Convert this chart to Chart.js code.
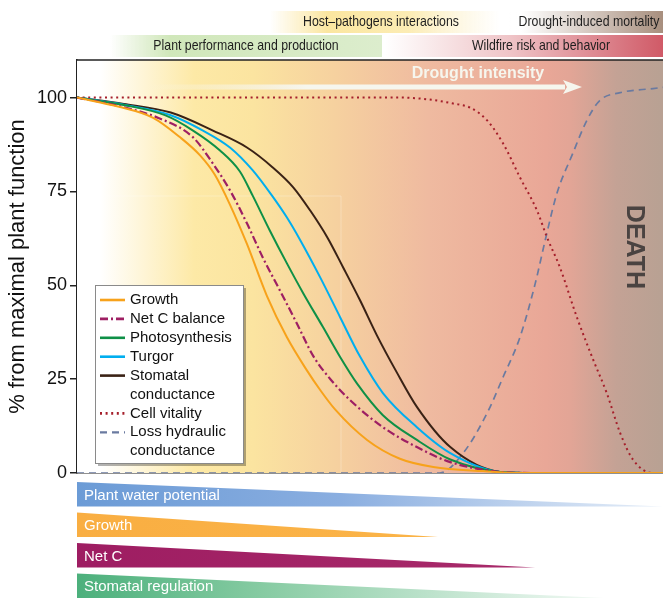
<!DOCTYPE html>
<html>
<head>
<meta charset="utf-8">
<script src="https://cdn.jsdelivr.net/npm/chart.js@4.4.1/dist/chart.umd.min.js"></script>
<style>
  html, body { margin: 0; padding: 0; background: #fff; }
  #wrap { width: 663px; height: 598px; position: relative; }
</style>
</head>
<body>
<div id="wrap"><canvas id="droughtChart"></canvas></div>
<script>
// values: [drought intensity (0-100), % of max function]
const growth = [[0,100],[7,97.6],[13,94.6],[17.6,89.4],[21,84.6],[23.5,79.5],[26.1,71.5],[29,61],[32.4,47.2],[35.8,36.2],[39.2,27.4],[41.5,22.1],[44,17],[49.5,8.8],[55.1,3.8],[60.8,1.6],[69.3,0.5],[76,0],[100,0]];
const netC = [[0,100],[7,97.8],[14,94.5],[19.8,89.4],[23.2,82.4],[26.1,75.3],[29,66.5],[31.7,57.4],[34.6,48.7],[37.5,39.9],[40.3,31.2],[43.5,24.5],[46.6,19.4],[52.2,12.2],[58,6.9],[63.7,2.9],[72.2,0.3],[78,0],[100,0]];
const photosynthesis = [[0,100],[8,98],[15,95.3],[19.8,91.2],[24.4,85.9],[27.8,80.3],[30,73.8],[32.9,64.6],[35.8,55.9],[38.6,47.9],[42,38.8],[44.9,30.9],[47.8,23.8],[52.2,15.4],[58,8.8],[63.7,3.6],[72.2,0.3],[78,0],[100,0]];
const turgor = [[0,100],[8,98.1],[16,95.3],[21.5,91.2],[26.1,86.7],[30,80.6],[33.4,73.6],[35.8,68.1],[38.1,62],[41.5,52.1],[44.9,41.5],[48.3,31],[52.2,21.3],[58,12.2],[63.7,5.3],[72.2,0.3],[78,0],[100,0]];
const stomatal = [[0,100],[8,98.3],[16,96],[23.2,91.2],[29,86.7],[33.4,81.4],[36.9,76.1],[39.8,69.9],[42.7,62.8],[45.4,54.8],[48.3,46],[51.2,36.6],[54.5,27],[58,17.6],[63.7,6.9],[72.2,0.3],[78,0],[100,0]];
const cellVitality = [[0,100],[55,100],[60,99.5],[64.2,98.4],[67.1,97.3],[70,93.9],[72.7,87.8],[75.6,78.7],[78.5,69.9],[80.2,62.8],[82.4,54.8],[85.3,41.5],[88.1,30.1],[90.4,21.3],[92.7,10.6],[94.9,3.5],[98.3,0],[100,0]];
const lossHydraulic = [[0,0],[61.9,0],[65.9,5.3],[70,16],[72.7,25.5],[75.6,36.2],[78.2,50.5],[79.9,62],[81.9,74.5],[84.6,85.1],[87,93.9],[89.2,99.2],[92.7,101.3],[98.3,102.4],[100,102.7]];

const yTicks = [0, 25, 50, 75, 100];

// bands above the plot: [label, from px, to px, row, text centre]
const topBands = [
  ['Host\u2013pathogens interactions', 270, 500, 0, 381],
  ['Drought-induced mortality', 505, 663, 0, 589],
  ['Plant performance and production', 110, 382, 1, 246],
  ['Wildfire risk and behavior', 385, 663, 1, 541]
];
// wedges below the plot: [label, drought intensity where it ends]
const wedges = [
  ['Plant water potential', 100],
  ['Growth', 61.6],
  ['Net C', 78.2],
  ['Stomatal regulation', 90]
];

const toPts = arr => arr.map(p => ({ x: p[0], y: p[1] }));
const FONT = '"Liberation Sans", Arial, sans-serif';

const bgStops = [[0,'#ffffff'],[0.04,'#ffffff'],[0.2,'#fde9a6'],[0.3,'#fbe4a0'],[0.44,'#f6d19f'],[0.6,'#efbaa0'],[0.8,'#e9a797'],[0.84,'#e3a596'],[0.92,'#c4a295'],[1,'#b8a193']];

function bandFill(ctx, i, x0, x1) {
  const g = ctx.createLinearGradient(x0, 0, x1, 0);
  if (i === 0) {
    g.addColorStop(0, 'rgba(251,230,160,0)');
    g.addColorStop(0.25, 'rgba(251,230,160,1)');
    g.addColorStop(0.6, 'rgba(252,236,180,1)');
    g.addColorStop(1, 'rgba(252,240,200,0)');
  } else if (i === 1) {
    g.addColorStop(0, 'rgba(255,255,255,0)');
    g.addColorStop(0.1, 'rgba(255,255,255,1)');
    g.addColorStop(1, '#a88f7e');
  } else if (i === 2) {
    g.addColorStop(0, 'rgba(205,229,181,0)');
    g.addColorStop(0.22, 'rgba(208,231,186,1)');
    g.addColorStop(1, 'rgba(220,237,205,1)');
  } else {
    g.addColorStop(0, 'rgba(255,255,255,1)');
    g.addColorStop(0.45, '#efc4c7');
    g.addColorStop(1, '#d05a67');
  }
  return g;
}

function wedgeFill(ctx, i, x0, x1) {
  const g = ctx.createLinearGradient(x0, 0, x1, 0);
  if (i === 0) {
    g.addColorStop(0, '#6b9bd6'); g.addColorStop(0.45, '#8aaee0'); g.addColorStop(1, '#e6eef8');
  } else if (i === 1) {
    g.addColorStop(0, '#f9ae42'); g.addColorStop(1, '#fbb448');
  } else if (i === 2) {
    g.addColorStop(0, '#9e1d62'); g.addColorStop(1, '#a82a6a');
  } else {
    g.addColorStop(0, '#4cb07c'); g.addColorStop(0.35, '#86cba2'); g.addColorStop(1, '#f4faf6');
  }
  return g;
}

// no narrow font installed, so squeeze the regular one
function narrowText(ctx, text, cx, cy) {
  ctx.save();
  ctx.translate(cx, cy);
  ctx.scale(0.82, 1);
  ctx.fillText(text, 0, 0);
  ctx.restore();
}

const decorations = {
  id: 'decorations',
  beforeDatasetsDraw(chart) {
    const { ctx, chartArea: a } = chart;
    ctx.save();
    const g = ctx.createLinearGradient(a.left, 0, a.right, 0);
    bgStops.forEach(s => g.addColorStop(s[0], s[1]));
    ctx.fillStyle = g;
    ctx.fillRect(a.left, a.top, a.right - a.left, a.bottom - a.top);

    // faint seam of the original artwork
    ctx.strokeStyle = 'rgba(255,255,255,0.25)'; ctx.lineWidth = 1;
    ctx.beginPath(); ctx.moveTo(341, 196); ctx.lineTo(341, a.bottom);
    ctx.moveTo(a.left + 20, 196); ctx.lineTo(341, 196); ctx.stroke();

    // drought intensity arrow
    const ay = a.top + 27;
    const ag = ctx.createLinearGradient(a.left + 70, 0, a.left + 230, 0);
    ag.addColorStop(0, 'rgba(246,246,238,0)');
    ag.addColorStop(1, 'rgba(246,246,238,1)');
    ctx.fillStyle = ag;
    ctx.fillRect(a.left + 70, ay - 2.5, 565 - (a.left + 70), 5);
    ctx.fillStyle = '#f6f6ee';
    ctx.beginPath();
    ctx.moveTo(563, ay - 7); ctx.lineTo(582, ay); ctx.lineTo(563, ay + 7);
    ctx.lineTo(567, ay); ctx.closePath(); ctx.fill();
    ctx.font = 'bold 16px ' + FONT;
    ctx.textAlign = 'center'; ctx.textBaseline = 'middle';
    ctx.fillText('Drought intensity', 478, a.top + 14);

    // DEATH
    ctx.translate(634, 247);
    ctx.rotate(Math.PI / 2);
    ctx.fillStyle = '#4a4341';
    ctx.font = 'bold 25px ' + FONT;
    ctx.fillText('DEATH', 0, 0);
    ctx.restore();
  },
  afterDraw(chart) {
    const { ctx, chartArea: a, scales: { x } } = chart;
    ctx.save();
    // frame top
    ctx.strokeStyle = '#222'; ctx.lineWidth = 1.5;
    ctx.beginPath(); ctx.moveTo(a.left, a.top); ctx.lineTo(a.right, a.top); ctx.stroke();

    // legend
    const lx = a.left + 18, ly = a.top + 225, lw = 148, lh = 178;
    ctx.fillStyle = 'rgba(0,0,0,0.3)';
    ctx.fillRect(lx + 3, ly + 3, lw, lh);
    ctx.fillStyle = '#fff';
    ctx.fillRect(lx, ly, lw, lh);
    ctx.strokeStyle = '#8a8a8a'; ctx.lineWidth = 1;
    ctx.strokeRect(lx + 0.5, ly + 0.5, lw, lh);
    ctx.font = '15px ' + FONT;
    ctx.textAlign = 'left'; ctx.textBaseline = 'middle';
    let row = 0;
    chart.data.datasets.forEach(ds => {
      const yy = ly + 15 + row * 18.9;
      ctx.strokeStyle = ds.borderColor;
      ctx.lineWidth = ds.borderWidth + 0.6;
      ctx.setLineDash(ds.borderDash || []);
      ctx.beginPath(); ctx.moveTo(lx + 5, yy); ctx.lineTo(lx + 30, yy); ctx.stroke();
      ctx.setLineDash([]);
      ctx.fillStyle = '#111';
      ds.legendLines.forEach((t, k) => ctx.fillText(t, lx + 35, yy + k * 18.9));
      row += ds.legendLines.length;
    });

    // bands above the plot
    ctx.font = '15px ' + FONT;
    ctx.textAlign = 'center';
    topBands.forEach((b, i) => {
      const y0 = b[3] === 0 ? 11 : 35;
      ctx.fillStyle = bandFill(ctx, i, b[1], b[2]);
      ctx.fillRect(b[1], y0, b[2] - b[1], 22);
      ctx.fillStyle = '#1e1e1e';
      narrowText(ctx, b[0], b[4], y0 + 11);
    });

    // wedges below the plot
    wedges.forEach((w, i) => {
      const top = a.bottom + 9 + i * 30.5, h = 24.5;
      const tip = x.getPixelForValue(w[1]);
      ctx.fillStyle = wedgeFill(ctx, i, a.left, tip);
      ctx.beginPath();
      ctx.moveTo(a.left, top); ctx.lineTo(tip, top + h);
      ctx.lineTo(a.left, top + h); ctx.closePath(); ctx.fill();
      ctx.fillStyle = '#fff';
      ctx.font = '15px ' + FONT;
      ctx.textAlign = 'left';
      ctx.fillText(w[0], a.left + 7, top + 13.5);
    });
    ctx.restore();
  }
};

const line = (label, legendLines, arr, color, width, dash) => ({
  label, legendLines, data: toPts(arr), borderColor: color, borderWidth: width,
  borderDash: dash, pointRadius: 0, fill: false, cubicInterpolationMode: 'monotone'
});

new Chart(document.getElementById('droughtChart'), {
  type: 'line',
  data: {
    datasets: [
      line('Growth', ['Growth'], growth, '#f7a21b', 2, []),
      line('Net C balance', ['Net C balance'], netC, '#9e1f63', 2.2, [8, 3, 2, 3]),
      line('Photosynthesis', ['Photosynthesis'], photosynthesis, '#0f9047', 2, []),
      line('Turgor', ['Turgor'], turgor, '#00aeef', 2, []),
      line('Stomatal conductance', ['Stomatal', 'conductance'], stomatal, '#3a2215', 2, []),
      line('Cell vitality', ['Cell vitality'], cellVitality, '#a51f2b', 2, [2, 3.6]),
      line('Loss hydraulic conductance', ['Loss hydraulic', 'conductance'], lossHydraulic, '#6a7aa0', 1.7, [7, 5])
    ]
  },
  options: {
    responsive: true,
    maintainAspectRatio: false,
    animation: false,
    layout: { padding: { top: 60, right: 0, bottom: 0, left: 0 } },
    plugins: { legend: { display: false }, tooltip: { enabled: false } },
    scales: {
      x: {
        type: 'linear', min: 0, max: 100,
        ticks: { display: false },
        grid: { display: false },
        border: { display: true, color: '#222', width: 1.5 },
        afterFit: s => { s.height = 125; }
      },
      y: {
        min: 0, max: 110,
        afterBuildTicks: s => { s.ticks = yTicks.map(v => ({ value: v })); },
        ticks: { color: '#111', font: { family: FONT, size: 18 }, padding: 3 },
        grid: { drawOnChartArea: false, drawTicks: true, tickLength: 7, color: '#222', lineWidth: 1.5 },
        border: { display: true, color: '#222', width: 1.5 },
        title: {
          display: true, text: '% from maximal plant function', color: '#111',
          font: { family: FONT, size: 22 }, padding: { top: 5, bottom: 0 }
        },
        afterFit: s => { s.width = 77; }
      }
    }
  },
  plugins: [decorations]
});
</script>
</body>
</html>
